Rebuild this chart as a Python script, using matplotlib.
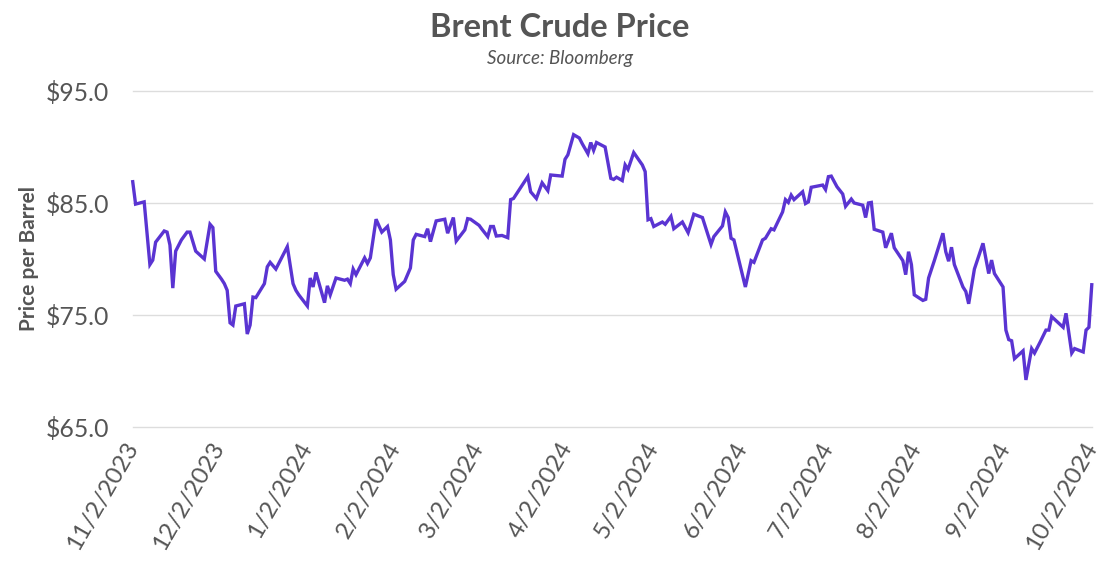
import matplotlib
matplotlib.use("Agg")
import matplotlib.pyplot as plt
import pandas as pd

dates = [
    "2023-11-02", "2023-11-03", "2023-11-06", "2023-11-08", "2023-11-09", "2023-11-10",
    "2023-11-13", "2023-11-14", "2023-11-15", "2023-11-16", "2023-11-17", "2023-11-19",
    "2023-11-21", "2023-11-22", "2023-11-24", "2023-11-27", "2023-11-29", "2023-11-30",
    "2023-12-01", "2023-12-03", "2023-12-04", "2023-12-05", "2023-12-06", "2023-12-07",
    "2023-12-08", "2023-12-11", "2023-12-12", "2023-12-13", "2023-12-14", "2023-12-15",
    "2023-12-18", "2023-12-19", "2023-12-20", "2023-12-22", "2023-12-26", "2023-12-28",
    "2023-12-29", "2023-12-30", "2024-01-02", "2024-01-03", "2024-01-04", "2024-01-05",
    "2024-01-08", "2024-01-09", "2024-01-10", "2024-01-12", "2024-01-15", "2024-01-16",
    "2024-01-17", "2024-01-18", "2024-01-19", "2024-01-22", "2024-01-23", "2024-01-24",
    "2024-01-26", "2024-01-28", "2024-01-30", "2024-01-31", "2024-02-01", "2024-02-02",
    "2024-02-05", "2024-02-07", "2024-02-08", "2024-02-09", "2024-02-12", "2024-02-13",
    "2024-02-14", "2024-02-16", "2024-02-19", "2024-02-20", "2024-02-22", "2024-02-23",
    "2024-02-26", "2024-02-27", "2024-02-28", "2024-03-02", "2024-03-03", "2024-03-05",
    "2024-03-06", "2024-03-07", "2024-03-08", "2024-03-10", "2024-03-12", "2024-03-13",
    "2024-03-14", "2024-03-19", "2024-03-20", "2024-03-22", "2024-03-24", "2024-03-26",
    "2024-03-27", "2024-03-31", "2024-04-01", "2024-04-02", "2024-04-04", "2024-04-06",
    "2024-04-07", "2024-04-09", "2024-04-10", "2024-04-11", "2024-04-12", "2024-04-15",
    "2024-04-17", "2024-04-18", "2024-04-19", "2024-04-21", "2024-04-22", "2024-04-23",
    "2024-04-25", "2024-04-28", "2024-04-29", "2024-04-30", "2024-05-01", "2024-05-02",
    "2024-05-05", "2024-05-06", "2024-05-08", "2024-05-09", "2024-05-12", "2024-05-14",
    "2024-05-16", "2024-05-19", "2024-05-22", "2024-05-23", "2024-05-26", "2024-05-27",
    "2024-05-28", "2024-05-29", "2024-05-30", "2024-06-03", "2024-06-05", "2024-06-06",
    "2024-06-09", "2024-06-10", "2024-06-12", "2024-06-13", "2024-06-16", "2024-06-17",
    "2024-06-18", "2024-06-19", "2024-06-20", "2024-06-23", "2024-06-24", "2024-06-25",
    "2024-06-26", "2024-06-30", "2024-07-01", "2024-07-02", "2024-07-03", "2024-07-05",
    "2024-07-07", "2024-07-08", "2024-07-10", "2024-07-11", "2024-07-14", "2024-07-15",
    "2024-07-16", "2024-07-17", "2024-07-18", "2024-07-21", "2024-07-22", "2024-07-24",
    "2024-07-25", "2024-07-28", "2024-07-29", "2024-07-30", "2024-07-31", "2024-08-01",
    "2024-08-04", "2024-08-05", "2024-08-06", "2024-08-08", "2024-08-11", "2024-08-12",
    "2024-08-13", "2024-08-14", "2024-08-15", "2024-08-18", "2024-08-19", "2024-08-20",
    "2024-08-22", "2024-08-25", "2024-08-26", "2024-08-27", "2024-08-28", "2024-08-29",
    "2024-09-01", "2024-09-02", "2024-09-03", "2024-09-04", "2024-09-05", "2024-09-08",
    "2024-09-09", "2024-09-11", "2024-09-12", "2024-09-14", "2024-09-16", "2024-09-17",
    "2024-09-18", "2024-09-22", "2024-09-23", "2024-09-25", "2024-09-26", "2024-09-29",
    "2024-09-30", "2024-10-01", "2024-10-02",
]

prices = [
    86.9, 84.9, 85.1, 79.5, 79.9, 81.5,
    82.5, 82.4, 81.25, 77.4, 80.7, 81.7,
    82.4, 82.4, 80.7, 80.0, 83.1, 82.8,
    78.9, 78.2, 77.8, 77.2, 74.3, 74.1,
    75.8, 76.0, 73.3, 74.1, 76.6, 76.55,
    77.8, 79.3, 79.7, 79.1, 81.1, 77.8,
    77.2, 76.8, 75.8, 78.3, 77.5, 78.8,
    76.1, 77.6, 76.8, 78.3, 78.1, 78.2,
    77.8, 79.1, 78.6, 80.1, 79.6, 80.1,
    83.55, 82.4, 82.9, 81.7, 78.6, 77.3,
    78.0, 79.2, 81.7, 82.2, 82.0, 82.7,
    81.55, 83.4, 83.55, 82.3, 83.7, 81.6,
    82.6, 83.6, 83.55, 83.0, 82.65, 82.0,
    82.9, 82.9, 82.05, 82.1, 81.9, 85.3,
    85.4, 87.35, 86.0, 85.4, 86.8, 86.1,
    87.5, 87.4, 88.9, 89.3, 91.1, 90.8,
    90.3, 89.4, 90.4, 89.7, 90.4, 90.0,
    87.2, 87.1, 87.3, 87.0, 88.4, 88.0,
    89.5, 88.4, 87.8, 83.5, 83.6, 82.9,
    83.3, 83.1, 83.8, 82.7, 83.3, 82.35,
    84.0, 83.7, 81.3, 82.0, 82.95, 84.2,
    83.7, 81.85, 81.7, 77.5, 79.85, 79.7,
    81.7, 81.85, 82.7, 82.6, 84.2, 85.3,
    85.05, 85.7, 85.3, 86.0, 84.95, 85.1,
    86.4, 86.6, 86.2, 87.35, 87.4, 86.45,
    85.8, 84.7, 85.35, 85.0, 84.8, 83.7,
    85.0, 85.05, 82.65, 82.4, 81.0, 82.3,
    81.0, 79.85, 78.6, 80.65, 79.5, 76.8,
    76.3, 76.4, 78.3, 79.85, 82.3, 80.65,
    79.8, 81.05, 79.5, 77.5, 77.1, 76.0,
    79.1, 81.4, 80.05, 78.7, 79.9, 78.7,
    77.5, 73.65, 72.8, 72.7, 71.1, 71.8,
    69.2, 72.0, 71.6, 72.6, 73.65, 73.65,
    74.85, 73.9, 75.15, 71.6, 72.0, 71.7,
    73.65, 73.9, 77.7,
]

tick_dates = ["2023-11-02", "2023-12-02", "2024-01-02", "2024-02-02", "2024-03-02",
              "2024-04-02", "2024-05-02", "2024-06-02", "2024-07-02", "2024-08-02",
              "2024-09-02", "2024-10-02"]
tick_labels = ["11/2/2023", "12/2/2023", "1/2/2024", "2/2/2024", "3/2/2024", "4/2/2024",
               "5/2/2024", "6/2/2024", "7/2/2024", "8/2/2024", "9/2/2024", "10/2/2024"]
y_ticks = [65, 75, 85, 95]
y_labels = ["$65.0", "$75.0", "$85.0", "$95.0"]

title = "Brent Crude Price"
subtitle = "Source: Bloomberg"
ylabel = "Price per Barrel"

plt.rcParams['font.family'] = ['Lato', 'DejaVu Sans']
text_color = "#555555"

x = pd.to_datetime(dates)
xt = pd.to_datetime(tick_dates)

fig = plt.figure(figsize=(11.2, 5.69), dpi=100)
ax = fig.add_axes([0.1185, 0.2496, 0.8563, 0.5905])

ax.plot(x, prices, color="#5a34d2", linewidth=2.4, solid_joinstyle="miter", zorder=3, clip_on=False)

ax.set_xlim(xt[0], xt[-1])
ax.set_ylim(65, 95)
ax.set_yticks(y_ticks)
ax.set_yticklabels(y_labels)
ax.set_xticks(xt)
ax.set_xticklabels(tick_labels, rotation=60, ha="right", va="center", rotation_mode="anchor")

ax.grid(axis="y", color="#dddddd", linewidth=1.0)
ax.grid(axis="x", visible=False)
for gl in ax.get_ygridlines():
    gl.set_clip_on(False)
ax.set_axisbelow(True)
for s in ax.spines.values():
    s.set_visible(False)
ax.tick_params(axis="both", length=0, colors=text_color)
ax.tick_params(axis="y", pad=17, labelsize=17.8)
ax.tick_params(axis="x", pad=12, labelsize=17.5)

ax.set_ylabel(ylabel, fontsize=15, fontweight="bold", color=text_color)
ax.yaxis.set_label_coords(-0.098, 0.5)

fig.text(0.5, 0.951, title, ha="center", va="center", fontsize=23.5, fontweight="bold", color=text_color)
fig.text(0.5, 0.897, subtitle, ha="center", va="center", fontsize=13.5, style="italic", color=text_color)

fig.savefig("out.png", dpi=100, facecolor="white")
